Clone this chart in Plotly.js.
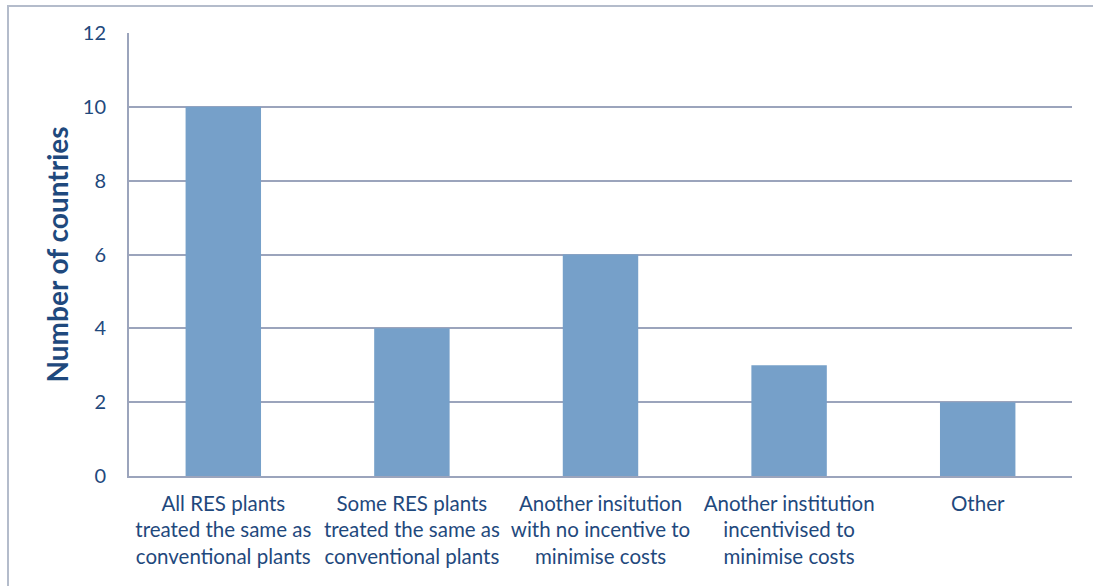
<!DOCTYPE html>
<html>
<head>
<meta charset="utf-8">
<script src="https://cdn.plot.ly/plotly-3.0.1.min.js"></script>
<style>
  html, body { margin: 0; padding: 0; background: #ffffff; }
  #wrap { position: relative; width: 1093px; height: 586px; overflow: hidden; }
  #frame { position: absolute; left: 7px; top: 5px; width: 1100px; height: 600px;
           border: 2px solid #b4bccb; box-sizing: border-box; pointer-events: none; }
  #chart { position: absolute; left: 0; top: 0; width: 1093px; height: 586px; }
</style>
</head>
<body>
<div id="wrap">
  <div id="chart"></div>
  <div id="frame"></div>
</div>
<script>
const categories = [
  "All RES plants<br>treated the same as<br>conventional plants",
  "Some RES plants<br>treated the same as<br>conventional plants",
  "Another insitution<br>with no incentive to<br>minimise costs",
  "Another institution<br>incentivised to<br>minimise costs",
  "Other"
];
const values = [10, 4, 6, 3, 2];
const yTicks = [0, 2, 4, 6, 8, 10, 12];

const textColor = "#1f497d";
const fontFamily = "Lato, 'Open Sans', sans-serif";

const trace = {
  type: "bar",
  x: categories,
  y: values,
  marker: { color: "#76a0c9", line: { width: 0 } },
  hoverinfo: "x+y"
};

const layout = {
  width: 1093,
  height: 586,
  margin: { l: 129, r: 21, t: 33, b: 110 },
  paper_bgcolor: "rgba(0,0,0,0)",
  plot_bgcolor: "#ffffff",
  bargap: 0.6,
  showlegend: false,
  font: { family: fontFamily, color: textColor, size: 20 },
  xaxis: {
    type: "category",
    tickfont: { family: fontFamily, size: 20.5, color: textColor },
    showline: true,
    linecolor: "#9ba4bc",
    linewidth: 2,
    ticks: "outside",
    ticklen: 8,
    tickcolor: "rgba(0,0,0,0)",
    showgrid: false,
    automargin: false
  },
  yaxis: {
    range: [0, 12],
    tickvals: yTicks,
    ticktext: yTicks.map(String),
    tickfont: { family: fontFamily, size: 20, color: textColor },
    showline: true,
    linecolor: "#9ba4bc",
    linewidth: 2,
    showgrid: true,
    gridcolor: "#9ba4bc",
    gridwidth: 2,
    zeroline: false,
    ticks: "outside",
    ticklen: 17,
    tickcolor: "rgba(0,0,0,0)",
    title: {
      text: "<b>Number of countries</b>",
      font: { family: fontFamily, size: 28, color: textColor },
      standoff: 6
    },
    automargin: false
  }
};

Plotly.newPlot("chart", [trace], layout, { displayModeBar: false, staticPlot: true });
</script>
</body>
</html>
